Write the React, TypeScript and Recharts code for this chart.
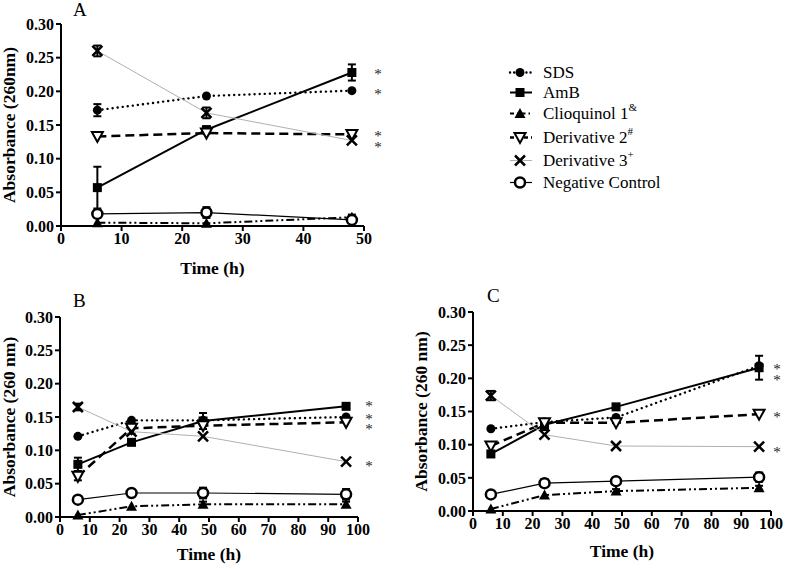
import React from "react";
import { LineChart, Line, XAxis, YAxis, ErrorBar, ReferenceDot } from "recharts";

const FONT = "'Liberation Serif', 'Times New Roman', serif";

// sampling times (h)
const hoursA = [6, 24, 48];
const hoursBC = [6, 24, 48, 96];

const ticksA = [0, 10, 20, 30, 40, 50];
const ticksBC = [0, 10, 20, 30, 40, 50, 60, 70, 80, 90, 100];
const yTicks = [0, 0.05, 0.1, 0.15, 0.2, 0.25, 0.3];

// Panel A values
const sdsA = [0.172, 0.193, 0.201];
const ambA = [0.057, 0.143, 0.228];
const clioA = [0.005, 0.004, 0.013];
const der2A = [0.133, 0.138, 0.136];
const der3A = [0.26, 0.168, 0.127];
const negA = [0.018, 0.02, 0.009];
// Panel A error (SEM)
const sdsErrA = [0.009, 0, 0];
const ambErrA = [0.031, 0.005, 0.012];
const clioErrA = [0, 0, 0.004];
const der2ErrA = [0, 0, 0];
const der3ErrA = [0.008, 0.008, 0];
const negErrA = [0.005, 0.008, 0];
const starsA = [0.23, 0.2, 0.138, 0.122];

// Panel B values
const sdsB = [0.121, 0.145, 0.145, 0.15];
const ambB = [0.079, 0.112, 0.144, 0.166];
const clioB = [0.003, 0.016, 0.019, 0.019];
const der2B = [0.061, 0.133, 0.137, 0.142];
const der3B = [0.165, 0.128, 0.121, 0.083];
const negB = [0.026, 0.036, 0.036, 0.034];
const sdsErrB = [0, 0, 0, 0];
const ambErrB = [0.01, 0.004, 0.012, 0.004];
const clioErrB = [0, 0, 0.004, 0.004];
const der2ErrB = [0.006, 0.008, 0, 0];
const der3ErrB = [0.005, 0, 0, 0];
const negErrB = [0.004, 0, 0.008, 0.008];
const starsB = [0.171, 0.152, 0.136, 0.081];

// Panel C values
const sdsC = [0.124, 0.134, 0.141, 0.219];
const ambC = [0.086, 0.13, 0.157, 0.216];
const clioC = [0.003, 0.024, 0.03, 0.035];
const der2C = [0.098, 0.133, 0.133, 0.146];
const der3C = [0.174, 0.115, 0.098, 0.097];
const negC = [0.025, 0.042, 0.045, 0.051];
const sdsErrC = [0, 0, 0, 0];
const ambErrC = [0.004, 0.008, 0.002, 0.018];
const clioErrC = [0, 0, 0.003, 0.003];
const der2ErrC = [0, 0, 0, 0];
const der3ErrC = [0.007, 0, 0, 0];
const negErrC = [0, 0.006, 0.004, 0.007];
const starsC = [0.219, 0.202, 0.146, 0.094];

const SERIES = [
  { key: "sds", name: "SDS", sup: "", shape: "circle", stroke: "#000", width: 2.4, dash: "0.1 5", legendDash: "0.1 4", cap: "round" },
  { key: "amb", name: "AmB", sup: "", shape: "square", stroke: "#000", width: 2, dash: undefined, legendDash: undefined, cap: "butt" },
  { key: "clio", name: "Clioquinol 1", sup: "&", shape: "triangle", stroke: "#000", width: 2, dash: "8 3 2 3 2 3", legendDash: "4 3 1.5 3", cap: "butt" },
  { key: "der2", name: "Derivative 2", sup: "#", shape: "nabla", stroke: "#000", width: 2.5, dash: "9 5", legendDash: "4 3", cap: "butt" },
  { key: "der3", name: "Derivative 3", sup: "+", shape: "cross", stroke: "#b0b0b0", width: 1, dash: undefined, legendDash: undefined, cap: "butt" },
  { key: "neg", name: "Negative Control", sup: "", shape: "ring", stroke: "#000", width: 1.2, dash: undefined, legendDash: undefined, cap: "butt" },
];

function makeRows(hours: number[], vals: number[][], errs: number[][]) {
  return hours.map((h, i) => {
    const row: any = { h };
    SERIES.forEach((s, j) => {
      row[s.key] = vals[j][i];
      row[s.key + "E"] = errs[j][i];
    });
    return row;
  });
}

const rowsA = makeRows(hoursA, [sdsA, ambA, clioA, der2A, der3A, negA], [sdsErrA, ambErrA, clioErrA, der2ErrA, der3ErrA, negErrA]);
const rowsB = makeRows(hoursBC, [sdsB, ambB, clioB, der2B, der3B, negB], [sdsErrB, ambErrB, clioErrB, der2ErrB, der3ErrB, negErrB]);
const rowsC = makeRows(hoursBC, [sdsC, ambC, clioC, der2C, der3C, negC], [sdsErrC, ambErrC, clioErrC, der2ErrC, der3ErrC, negErrC]);

function Marker({ shape, cx, cy }: { shape: string; cx: number; cy: number }) {
  switch (shape) {
    case "circle":
      return <circle cx={cx} cy={cy} r={4.5} fill="#000" />;
    case "square":
      return <rect x={cx - 4.5} y={cy - 4.5} width={9} height={9} fill="#000" />;
    case "triangle":
      return <path d={`M${cx},${cy - 5.5} L${cx + 5.5},${cy + 4.5} L${cx - 5.5},${cy + 4.5} Z`} fill="#000" />;
    case "nabla":
      return (
        <path
          d={`M${cx - 5.5},${cy - 4.5} L${cx + 5.5},${cy - 4.5} L${cx},${cy + 5.5} Z`}
          fill="#fff"
          stroke="#000"
          strokeWidth={2}
        />
      );
    case "cross":
      return (
        <path
          d={`M${cx - 5},${cy - 5} L${cx + 5},${cy + 5} M${cx + 5},${cy - 5} L${cx - 5},${cy + 5}`}
          stroke="#000"
          strokeWidth={2.5}
        />
      );
    default:
      return <circle cx={cx} cy={cy} r={5} fill="#fff" stroke="#000" strokeWidth={2.5} />;
  }
}

const tickStyle = { fill: "#000", fontSize: 16, fontWeight: "bold", fontFamily: FONT };
const labelStyle = { fill: "#000", fontSize: 17.5, fontWeight: "bold", fontFamily: FONT };
const axisStroke = { stroke: "#000", strokeWidth: 2 };

function Star(props: any) {
  return (
    <text x={props.cx} y={props.cy + 8} textAnchor="middle" fontSize={15} fontFamily={FONT} fill="#222">
      *
    </text>
  );
}

function Panel({
  rows,
  ticks,
  xMax,
  width,
  height,
  margin,
  yAxisW,
  xAxisH,
  yLabel,
  yLabelOffset,
  xLabelOffset,
  stars,
  starX,
}: any) {
  return (
    <LineChart width={width} height={height} data={rows} margin={margin}>
      <XAxis
        dataKey="h"
        type="number"
        domain={[0, xMax]}
        ticks={ticks}
        height={xAxisH}
        axisLine={axisStroke}
        tickLine={axisStroke}
        tickSize={5}
        tick={tickStyle}
        label={{ value: "Time (h)", position: "insideBottom", offset: xLabelOffset, style: labelStyle }}
      />
      <YAxis
        type="number"
        domain={[0, 0.3]}
        ticks={yTicks}
        width={yAxisW}
        axisLine={axisStroke}
        tickLine={axisStroke}
        tickSize={5}
        tick={tickStyle}
        tickFormatter={(v: number) => v.toFixed(2)}
        label={{
          value: yLabel,
          angle: -90,
          position: "insideLeft",
          offset: yLabelOffset,
          style: { ...labelStyle, textAnchor: "middle" },
        }}
      />
      {SERIES.map((s) => (
        <Line
          key={s.key}
          dataKey={s.key}
          name={s.name}
          type="linear"
          stroke={s.stroke}
          strokeWidth={s.width}
          strokeDasharray={s.dash}
          strokeLinecap={s.cap as any}
          isAnimationActive={false}
          dot={(p: any) => <Marker key={`${s.key}-${p.index}`} shape={s.shape} cx={p.cx} cy={p.cy} />}
          activeDot={false}
        >
          <ErrorBar dataKey={s.key + "E"} width={4} strokeWidth={2} stroke="#000" direction="y" />
        </Line>
      ))}
      {stars.map((v: number, i: number) => (
        <ReferenceDot key={i} x={starX} y={v} r={0} ifOverflow="visible" shape={Star} />
      ))}
    </LineChart>
  );
}

function Legend() {
  const rowsY = [78, 98, 119, 143, 166, 188];
  return (
    <svg width={260} height={200} style={{ position: "absolute", left: 500, top: 0 }}>
      {SERIES.map((s, i) => {
        const y = rowsY[i];
        const cy = y - 5.5;
        return (
          <g key={s.key}>
            <line
              x1={10}
              x2={32}
              y1={cy}
              y2={cy}
              stroke={s.stroke}
              strokeWidth={s.width}
              strokeDasharray={s.legendDash}
              strokeLinecap={s.cap as any}
            />
            <Marker shape={s.shape} cx={20} cy={cy} />
            <text x={43} y={y} fontSize={17} fontFamily={FONT} fill="#000">
              {s.name}
              {s.sup ? (
                <tspan fontSize={11} dy={-8}>
                  {s.sup}
                </tspan>
              ) : null}
            </text>
          </g>
        );
      })}
    </svg>
  );
}

export default function App() {
  return (
    <div
      style={{
        position: "absolute",
        left: 0,
        top: 0,
        width: 787,
        height: 569,
        background: "#fff",
        fontFamily: FONT,
        overflow: "hidden",
      }}
    >
      <div style={{ position: "absolute", left: 0, top: 0 }}>
        <Panel
          rows={rowsA}
          ticks={ticksA}
          xMax={50}
          width={400}
          height={280}
          margin={{ top: 24, right: 36, bottom: 0, left: 0 }}
          yAxisW={61}
          xAxisH={54}
          yLabel="Absorbance (260nm)"
          yLabelOffset={9}
          xLabelOffset={6}
          stars={starsA}
          starX={52.3}
        />
      </div>
      <div style={{ position: "absolute", left: 0, top: 280 }}>
        <Panel
          rows={rowsB}
          ticks={ticksBC}
          xMax={100}
          width={400}
          height={289}
          margin={{ top: 37, right: 42, bottom: 0, left: 0 }}
          yAxisW={60}
          xAxisH={52}
          yLabel="Absorbance (260 nm)"
          yLabelOffset={9}
          xLabelOffset={9}
          stars={starsB}
          starX={103.7}
        />
      </div>
      <div style={{ position: "absolute", left: 390, top: 280 }}>
        <Panel
          rows={rowsC}
          ticks={ticksBC}
          xMax={100}
          width={397}
          height={289}
          margin={{ top: 32, right: 16, bottom: 0, left: 0 }}
          yAxisW={83}
          xAxisH={58}
          yLabel="Absorbance (260 nm)"
          yLabelOffset={31}
          xLabelOffset={12}
          stars={starsC}
          starX={102}
        />
      </div>
      <svg width={787} height={569} style={{ position: "absolute", left: 0, top: 0, pointerEvents: "none" }}>
        <text x={73} y={16} fontSize={19} fontFamily={FONT} fill="#000">A</text>
        <text x={73} y={307} fontSize={19} fontFamily={FONT} fill="#000">B</text>
        <text x={487} y={302} fontSize={19} fontFamily={FONT} fill="#000">C</text>
      </svg>
      <Legend />
    </div>
  );
}
